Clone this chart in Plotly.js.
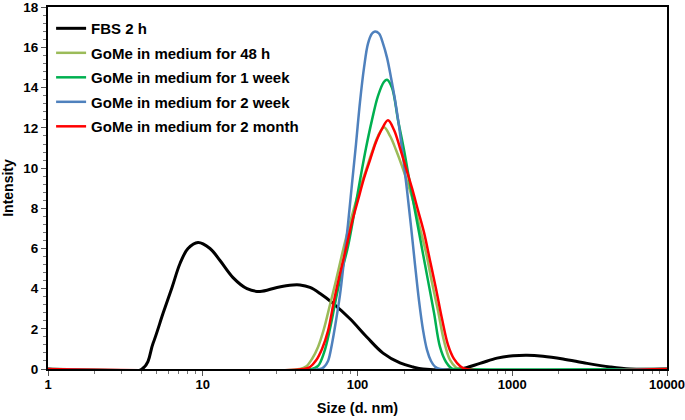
<!DOCTYPE html>
<html>
<head>
<meta charset="utf-8">
<script src="https://cdn.plot.ly/plotly-3.0.1.min.js"></script>
<style>html,body{margin:0;padding:0;background:#fff;}#chart{width:685px;height:420px;}</style>
</head>
<body>
<div id="chart"></div>
<script>
// Size (d. nm) and Intensity values
const fbsX = [1, 4.05, 4.77, 5.54, 6.33, 7.13, 8.03, 9.32, 11.14, 12.93, 15.69, 19.32, 23.44, 30.18, 38.3, 42.5, 49.3, 57.3, 69.5, 89.4, 115.2, 146.2, 188.2, 228.4, 265, 459.6, 618.8, 797, 1011, 1245, 1580, 2128, 3041, 4282, 5768, 10000];
const fbsY = [0, 0, 1.27, 2.77, 4.06, 5.25, 6.0, 6.3, 6.0, 5.4, 4.55, 4.0, 3.86, 4.06, 4.18, 4.18, 4.06, 3.76, 3.27, 2.5, 1.58, 0.79, 0.3, 0.1, 0, 0, 0.28, 0.54, 0.66, 0.69, 0.64, 0.5, 0.28, 0.1, 0, 0];

const h48X = [1, 42.5, 46.5, 50.8, 55.6, 60.7, 66.4, 72.6, 79.4, 86.8, 94.9, 103.8, 113.5, 124.1, 135.7, 148.4, 162.2, 177.4, 193.9, 212.0, 231.8, 253.5, 277.1, 303.0, 331.3, 362.2, 396.0, 433.0, 459.6, 10000];
const h48Y = [0, 0, 0.12, 0.5, 1.1, 2.0, 3.2, 4.4, 5.7, 6.9, 8.0, 9.0, 9.9, 10.8, 11.6, 12.03, 11.6, 10.9, 10.1, 9.2, 8.2, 7.0, 5.8, 4.3, 2.9, 1.4, 0.45, 0.08, 0, 0];

const w1X = [1, 50.8, 55.6, 60.7, 66.4, 72.6, 79.4, 86.8, 94.9, 103.8, 113.5, 124.1, 135.7, 148.4, 155.1, 167.1, 182.7, 199.8, 218.5, 238.8, 261.1, 285.5, 312.2, 341.3, 373.2, 408.0, 433.0, 10000];
const w1Y = [0, 0, 0.15, 0.8, 2.0, 3.5, 4.9, 6.1, 7.7, 9.4, 11.0, 12.4, 13.6, 14.3, 14.4, 14.0, 12.4, 10.9, 9.2, 7.6, 6.0, 4.4, 2.8, 1.1, 0.35, 0.02, 0, 0];

const w2X = [1, 57.3, 60.7, 64.5, 68.4, 72.6, 77.1, 81.8, 86.8, 92.1, 97.8, 103.8, 110.2, 116.9, 124.1, 129.8, 137.7, 146.2, 155.1, 164.7, 174.7, 185.4, 196.8, 208.9, 221.7, 235.3, 249.7, 265.0, 281.2, 298.5, 316.8, 341.3, 10000];
const w2Y = [0, 0, 0.1, 0.4, 1.25, 2.4, 3.7, 5.4, 7.2, 9.2, 11.2, 13.3, 15.0, 16.2, 16.7, 16.8, 16.7, 16.2, 15.5, 14.5, 13.4, 12.1, 10.6, 8.9, 7.1, 5.2, 3.4, 1.95, 0.95, 0.4, 0.12, 0, 0];

const m2X = [1, 45.1, 49.3, 53.9, 58.97, 64.5, 70.5, 77.1, 84.3, 92.1, 100.7, 110.2, 120.4, 131.7, 144.0, 157.4, 172.2, 188.2, 205.8, 225.0, 246.0, 269.0, 294.1, 321.6, 351.6, 384.4, 420.3, 459.6, 502.5, 10000];
const m2Y = [0, 0, 0.1, 0.42, 1.0, 1.9, 3.4, 4.75, 6.0, 7.3, 8.4, 9.5, 10.4, 11.3, 11.95, 12.38, 11.9, 11.0, 10.0, 9.0, 7.9, 6.8, 5.4, 4.0, 2.5, 1.2, 0.5, 0.15, 0, 0];

const seriesNames = ['FBS 2 h', 'GoMe in medium for 48 h', 'GoMe in medium for 1 week', 'GoMe in medium for 2 week', 'GoMe in medium for 2 month'];
const xTickVals = [1, 10, 100, 1000, 10000];
const xTickText = ['1', '10', '100', '1000', '10000'];
const yTickVals = [0, 2, 4, 6, 8, 10, 12, 14, 16, 18];
const xTitle = 'Size (d. nm)';
const yTitle = 'Intensity';

const FONT = '"Liberation Sans", Arial, sans-serif';
const colors = ['#000000', '#9BBB59', '#00B050', '#4F81BD', '#FF0000'];
const widths = [3, 2.5, 2.5, 2.5, 2.5];
const xs = [fbsX, h48X, w1X, w2X, m2X];
const ys = [fbsY, h48Y, w1Y, w2Y, m2Y];

const traces = xs.map((x, i) => ({
  x: x, y: ys[i], type: 'scatter', mode: 'lines', name: seriesNames[i],
  legendgroup: 'g' + i,
  line: {color: colors[i], width: widths[i], shape: 'spline', smoothing: 1}
}));

const layout = {
  width: 685, height: 420,
  margin: {l: 48, r: 18, t: 7, b: 51, pad: 0},
  paper_bgcolor: '#ffffff', plot_bgcolor: '#ffffff',
  font: {family: FONT, color: '#000', size: 13, weight: 'bold'},
  showlegend: true,
  legend: {
    x: 0.005, y: 0.986, xanchor: 'left', yanchor: 'top',
    bgcolor: 'rgba(0,0,0,0)', borderwidth: 0,
    font: {family: FONT, size: 15, color: '#000', weight: 'bold'},
    traceorder: 'grouped', tracegroupgap: 2, itemwidth: 30
  },
  xaxis: {
    type: 'log', range: [0, 4],
    tickmode: 'array', tickvals: xTickVals, ticktext: xTickText,
    showgrid: false, zeroline: false,
    showline: true, linecolor: '#000', linewidth: 2, mirror: true,
    ticks: 'outside', ticklen: 5, tickwidth: 1, tickcolor: '#555',
    ticklabelstandoff: -3, ticklabeloverflow: 'allow',
    tickfont: {family: FONT, size: 13, weight: 'bold'},
    minor: {ticks: 'outside', ticklen: 3, tickwidth: 1, tickcolor: '#777', dtick: 'D1', showgrid: false},
    title: {text: xTitle, font: {family: FONT, size: 14.5, weight: 'bold'}, standoff: 12}
  },
  yaxis: {
    range: [0, 18.02],
    tickmode: 'array', tickvals: yTickVals,
    showgrid: false, zeroline: false,
    showline: true, linecolor: '#000', linewidth: 2, mirror: true,
    ticks: 'outside', ticklen: 5, tickwidth: 1, tickcolor: '#555',
    tickfont: {family: FONT, size: 13.5, weight: 'bold'},
    minor: {ticks: 'outside', ticklen: 3, tickwidth: 1, tickcolor: '#777', dtick: 0.4, showgrid: false},
    title: {text: yTitle, font: {family: FONT, size: 14, weight: 'bold'}, standoff: 6}
  }
};

Plotly.newPlot('chart', traces, layout, {staticPlot: true, displayModeBar: false});
</script>
</body>
</html>
